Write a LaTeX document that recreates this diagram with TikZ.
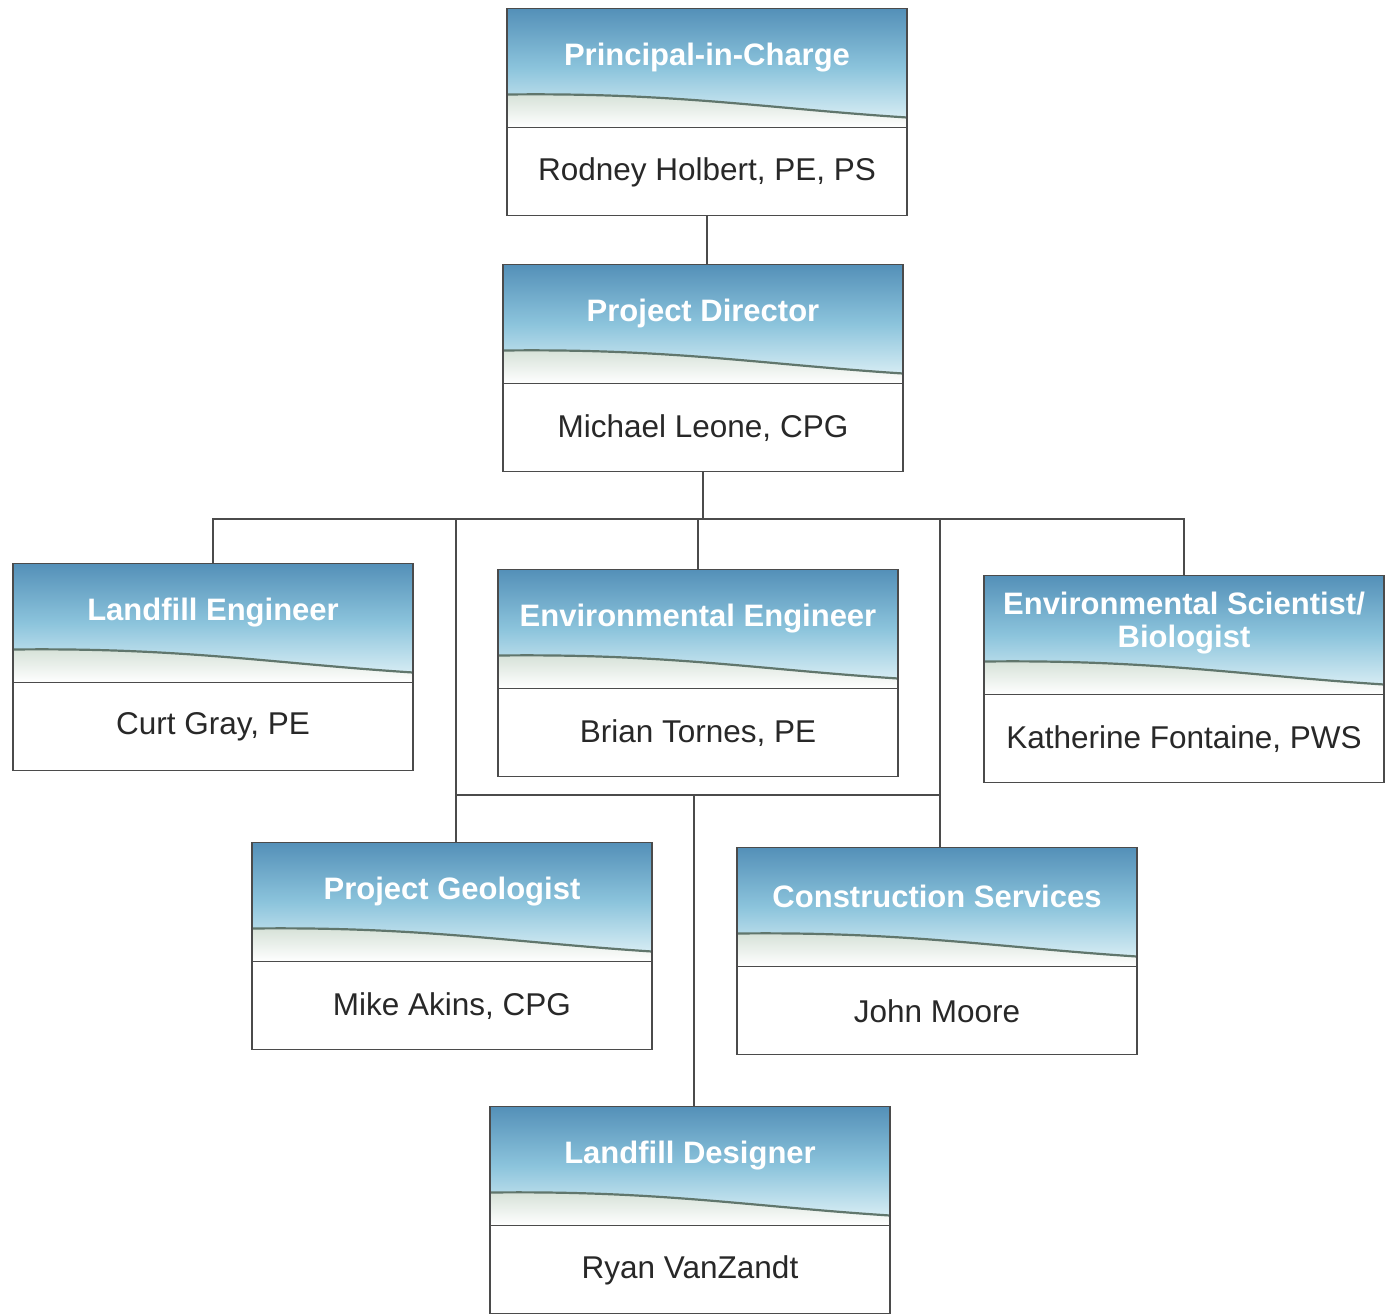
\documentclass[tikz,border=0pt]{standalone}
\usepackage{fontspec}
\setmainfont{Liberation Sans}
\usetikzlibrary{calc}
\definecolor{hdtop}{RGB}{84,144,184}
\definecolor{hdmid}{RGB}{140,196,220}
\definecolor{hdbot}{RGB}{228,244,248}
\definecolor{wavec}{RGB}{96,118,108}
\definecolor{groundc}{RGB}{212,224,214}
\definecolor{linegray}{RGB}{75,75,75}
\definecolor{namec}{RGB}{40,40,40}
\tikzset{
  orgbox/.style={rectangle, draw=linegray, line width=1.3pt, minimum width=400pt,
    minimum height=207pt, inner sep=0pt, fill=white,
    path picture={
      \coordinate (nw) at (path picture bounding box.north west);
      \coordinate (ne) at (path picture bounding box.north east);
      \shade[top color=hdtop, bottom color=hdbot, middle color=hdmid]
        (nw) rectangle ([yshift=-119pt]ne);
      \shade[top color=groundc, bottom color=white]
        ([yshift=-86pt]nw) .. controls ([xshift=170pt,yshift=-84pt]nw)
        and ([xshift=-140pt,yshift=-100pt]ne) .. ([yshift=-109pt]ne)
        -- ([yshift=-119pt]ne) -- ([yshift=-119pt]nw) -- cycle;
      \draw[wavec, line width=2.2pt]
        ([yshift=-86pt]nw) .. controls ([xshift=170pt,yshift=-84pt]nw)
        and ([xshift=-140pt,yshift=-100pt]ne) .. ([yshift=-109pt]ne);
      \draw[linegray, line width=1.3pt] ([yshift=-119pt]nw) -- ([yshift=-119pt]ne);
    }},
  titletext/.style={text=white, font=\fontsize{31}{33}\selectfont\bfseries, align=center, inner sep=0pt},
  nametext/.style={text=namec, font=\fontsize{31.5}{34}\selectfont, inner sep=0pt},
  conn/.style={draw=linegray, line width=2pt},
}
\begin{document}
\begin{tikzpicture}[x=1pt, y=-1pt]
\useasboundingbox (0,0) rectangle (1389,1315);

\node[orgbox] (pic) at (707,112) {};
\node[titletext] (picT) at ([yshift=-50pt]pic.north) {Principal-in-Charge};
\node[nametext] (picN) at ([yshift=44pt]pic.south) {Rodney Holbert, PE, PS};

\node[orgbox] (pd) at (703,368) {};
\node[titletext] (pdT) at ([yshift=-50pt]pd.north) {Project Director};
\node[nametext] (pdN) at ([yshift=44pt]pd.south) {Michael Leone, CPG};

\node[orgbox] (le) at (213,667) {};
\node[titletext] (leT) at ([yshift=-50pt]le.north) {Landfill Engineer};
\node[nametext] (leN) at ([yshift=44pt]le.south) {Curt Gray, PE};

\node[orgbox] (ee) at (698,673) {};
\node[titletext] (eeT) at ([yshift=-50pt]ee.north) {Environmental Engineer};
\node[nametext] (eeN) at ([yshift=44pt]ee.south) {Brian Tornes, PE};

\node[orgbox] (es) at (1184,679) {};
\node[titletext] (esT) at ([yshift=-48pt]es.north) {Environmental Scientist/\\Biologist};
\node[nametext] (esN) at ([yshift=44pt]es.south) {Katherine Fontaine, PWS};

\node[orgbox] (pg) at (452,946) {};
\node[titletext] (pgT) at ([yshift=-50pt]pg.north) {Project Geologist};
\node[nametext] (pgN) at ([yshift=44pt]pg.south) {Mike Akins, CPG};

\node[orgbox] (cs) at (937,951) {};
\node[titletext] (csT) at ([yshift=-50pt]cs.north) {Construction Services};
\node[nametext] (csN) at ([yshift=44pt]cs.south) {John Moore};

\node[orgbox] (ld) at (690,1210) {};
\node[titletext] (ldT) at ([yshift=-50pt]ld.north) {Landfill Designer};
\node[nametext] (ldN) at ([yshift=44pt]ld.south) {Ryan VanZandt};

\coordinate (busA) at (0,519);
\coordinate (busB) at (0,795);
\coordinate (pgc) at ([xshift=4pt]pg.north);
\coordinate (csc) at ([xshift=3pt]cs.north);
\coordinate (ldc) at ([xshift=4pt]ld.north);

\draw[conn] (pic.south) -- (pic.south |- pd.north);
\draw[conn] (pd.south) -- (pd.south |- busA);
\draw[conn] (le.north) -- (le.north |- busA) -| (es.north);
\draw[conn] (ee.north) -- (ee.north |- busA);
\draw[conn] (pgc) -- (pgc |- busA);
\draw[conn] (csc) -- (csc |- busA);
\draw[conn] (pgc |- busB) -- (csc |- busB);
\draw[conn] (ldc) -- (ldc |- busB);
\end{tikzpicture}
\end{document}
